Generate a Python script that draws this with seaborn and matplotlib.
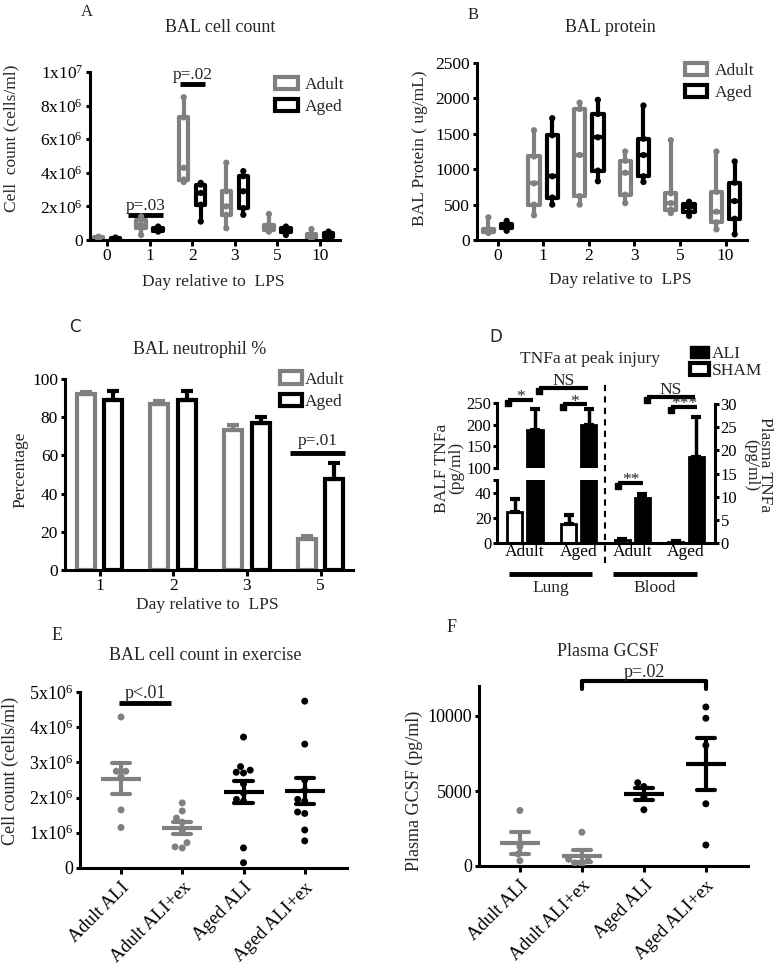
import numpy as np
import pandas as pd
import seaborn as sns
import matplotlib.pyplot as plt
from matplotlib.patches import Patch

### Data
## A - BAL cell count (x1e6 cells/ml): min, q1, median, q3, max for each day
days = ['0', '1', '2', '3', '5', '10']
groups = ['Adult', 'Aged']
cells_adult = [[0.0, 0.05, 0.1, 0.15, 0.2],
               [0.3, 0.7, 0.9, 1.2, 1.4],
               [3.45, 3.6, 4.3, 7.3, 8.5],
               [0.7, 1.5, 2.0, 2.9, 4.6],
               [0.5, 0.6, 0.7, 0.9, 1.55],
               [0.05, 0.1, 0.2, 0.35, 0.65]]
cells_aged = [[0.0, 0.03, 0.06, 0.1, 0.15],
              [0.5, 0.55, 0.6, 0.7, 0.8],
              [1.1, 2.1, 2.8, 3.3, 3.4],
              [1.5, 1.9, 2.9, 3.8, 4.1],
              [0.3, 0.45, 0.6, 0.7, 0.8],
              [0.15, 0.2, 0.3, 0.4, 0.5]]

## B - BAL protein (ug/mL): min, q1, median, q3, max
prot_adult = [[100, 110, 130, 150, 320],
              [350, 500, 800, 1180, 1550],
              [500, 620, 1200, 1850, 1940],
              [520, 640, 950, 1120, 1250],
              [380, 430, 520, 660, 1410],
              [150, 250, 400, 680, 1250]]
prot_aged = [[130, 170, 200, 230, 270],
             [500, 600, 900, 1480, 1720],
             [830, 980, 1450, 1780, 1980],
             [820, 900, 1200, 1430, 1900],
             [340, 390, 460, 510, 540],
             [80, 300, 550, 810, 1110]]

## C - BAL neutrophil % (mean, upper SEM)
neut_days = ['1', '2', '3', '5']
neut_adult = [92, 87, 73.5, 16]
neut_adult_err = [1.0, 1.5, 2.5, 2.0]
neut_aged = [89, 89, 77, 47.5]
neut_aged_err = [4.5, 4.5, 3.0, 8.5]

## D - TNFa at peak injury
tnf_cats = ['Lung Adult', 'Lung Aged', 'Blood Adult', 'Blood Aged']
tnf_ticks = ['Adult', 'Aged', 'Adult', 'Aged']
tnf_hue = ['SHAM', 'ALI']
lung_sham = [25, 15]
lung_sham_err = [10, 7]
lung_ali = [188, 199]
lung_ali_err = [49, 38]
blood_sham = [0.6, 0.3]
blood_sham_err = [0.3, 0.1]
blood_ali = [9.8, 18.6]
blood_ali_err = [0.8, 8.5]

## E - BAL cell count in exercise (x1e6 cells/ml)
ex_cats = ['Adult ALI', 'Adult ALI+ex', 'Aged ALI', 'Aged ALI+ex']
bal_adult_ali = [4.29, 2.75, 2.75, 2.6, 1.65, 1.15]
bal_adult_ex = [1.85, 1.62, 1.42, 1.3, 1.05, 0.72, 0.57, 0.6]
bal_aged_ali = [3.72, 2.88, 2.78, 2.72, 2.7, 2.39, 2.13, 1.95, 1.9, 0.57, 0.15]
bal_aged_ex = [4.74, 3.52, 2.5, 2.2, 1.9, 1.95, 1.59, 1.55, 1.08, 0.77]

## F - Plasma GCSF (pg/ml)
gcsf_adult_ali = [3700, 1300, 800, 350]
gcsf_adult_ex = [2250, 450, 350, 100, 200]
gcsf_aged_ali = [5550, 5300, 4600, 3750]
gcsf_aged_ex = [10600, 9850, 8050, 4150, 1400]

GRAY = '#808080'
pal = {'Adult': GRAY, 'Aged': 'black'}
pal_ex = {'Adult ALI': GRAY, 'Adult ALI+ex': GRAY, 'Aged ALI': 'black', 'Aged ALI+ex': 'black'}

W, H = 776, 966

sns.set_style('ticks')
plt.rcParams['font.family'] = ['Liberation Serif', 'DejaVu Serif']
plt.rcParams['mathtext.fontset'] = 'custom'
plt.rcParams['mathtext.rm'] = 'Liberation Serif'
plt.rcParams['mathtext.it'] = 'Liberation Serif:italic'
plt.rcParams['axes.linewidth'] = 2.2
plt.rcParams['xtick.major.width'] = 2.2
plt.rcParams['ytick.major.width'] = 2.2
plt.rcParams['xtick.major.size'] = 4
plt.rcParams['ytick.major.size'] = 3
plt.rcParams['xtick.color'] = 'black'
plt.rcParams['ytick.color'] = 'black'
plt.rcParams['axes.edgecolor'] = 'black'


def rect(x0, y0, x1, y1):
    """Pixel box (top-left origin) -> figure fraction rectangle."""
    return [x0 / W, 1 - y1 / H, (x1 - x0) / W, (y1 - y0) / H]


def ftext(x, y, s, **kw):
    kw.setdefault('ha', 'center')
    kw.setdefault('va', 'center')
    fig.text(x / W, 1 - y / H, s, **kw)


def sci_label(k, e):
    return r'$\mathregular{%dx10^{%d}}$' % (k, e)


def long_frame(adult, aged, name):
    rows = []
    for day, a, b in zip(days, adult, aged):
        rows += [(day, 'Adult', v) for v in a]
        rows += [(day, 'Aged', v) for v in b]
    return pd.DataFrame(rows, columns=['day', 'group', name])


def box_panel(ax, df, col, gap):
    sns.boxplot(data=df, x='day', y=col, hue='group', order=days, hue_order=groups,
                palette=pal, fill=False, linewidth=3, whis=(0, 100), showcaps=False,
                width=0.8, gap=gap, legend=False, ax=ax)
    sns.stripplot(data=df, x='day', y=col, hue='group', order=days, hue_order=groups,
                  palette=pal, dodge=True, jitter=False, size=4.5, legend=False, ax=ax)
    ax.set_xlabel('')
    ax.set_ylabel('')
    sns.despine(ax=ax)


def sig_bar(ax, x0, x1, y, label, fs, up=1):
    ax.plot([x0, x1], [y, y], color='black', lw=3.5, solid_capstyle='butt', clip_on=False)
    ax.annotate(label, xy=((x0 + x1) / 2, y), xytext=(0, up), textcoords='offset points',
                ha='center', va='bottom', fontsize=fs, annotation_clip=False)


def age_legend(ax, anchor, fs=12.5, pad=0.4):
    handles = [Patch(facecolor='white', edgecolor=pal[g], linewidth=3, label=g) for g in groups]
    ax.legend(handles=handles, loc='upper left', bbox_to_anchor=anchor, frameon=False,
              fontsize=fs, handlelength=1.3, handleheight=0.7, handletextpad=pad,
              labelspacing=0.35, borderaxespad=0, borderpad=0)


fig = plt.figure(figsize=(W / 100, H / 100), dpi=100)

### A - BAL cell count
axA = fig.add_axes(rect(90, 72, 340, 240))
dfA = long_frame(cells_adult, cells_aged, 'count')
dfA['count'] = dfA['count'] * 1e6
box_panel(axA, dfA, 'count', gap=0.45)
axA.set_xlim(-0.4, 5.47)
axA.set_ylim(0, 1e7)
axA.set_yticks([0, 2e6, 4e6, 6e6, 8e6, 1e7])
axA.set_yticklabels(['0'] + [sci_label(k, 6) for k in (2, 4, 6, 8)] + [sci_label(1, 7)])
axA.tick_params(labelsize=12.5, pad=2)
sig_bar(axA, 0.49, 1.31, 1.49e6, 'p=.03', 12.5)
sig_bar(axA, 1.71, 2.3, 9.29e6, 'p=.02', 12.5)
age_legend(axA, (0.74, 0.97))
ftext(87, 12, 'A', fontsize=12)
ftext(220, 27, 'BAL cell count', fontsize=13)
ftext(213, 282, 'Day relative to  LPS', fontsize=12.5)
ftext(11, 138, 'Cell  count (cells/ml)', fontsize=12.5, rotation=90)

### B - BAL protein
axB = fig.add_axes(rect(477, 63, 747, 240))
dfB = long_frame(prot_adult, prot_aged, 'protein')
box_panel(axB, dfB, 'protein', gap=0.38)
axB.set_xlim(-0.45, 5.47)
axB.set_ylim(0, 2500)
axB.set_yticks([0, 500, 1000, 1500, 2000, 2500])
axB.tick_params(labelsize=12.5, pad=2)
age_legend(axB, (0.77, 1.0))
ftext(473, 15, 'B', fontsize=12)
ftext(610, 28, 'BAL protein', fontsize=13)
ftext(620, 280, 'Day relative to  LPS', fontsize=12.5)
ftext(420, 148, 'BAL Protein ( ug/mL)', fontsize=12.5, rotation=90)

### C - BAL neutrophil %
axC = fig.add_axes(rect(65, 379, 353, 570))
dfC = pd.DataFrame({'day': neut_days * 2,
                    'group': ['Adult'] * 4 + ['Aged'] * 4,
                    'pct': neut_adult + neut_aged})
sns.barplot(data=dfC, x='day', y='pct', hue='group', order=neut_days, hue_order=groups,
            palette=pal, fill=False, linewidth=3, width=0.75, gap=0.35, errorbar=None,
            legend=False, ax=axC)
for cont, err, g in zip(axC.containers, [neut_adult_err, neut_aged_err], groups):
    bars = sorted(cont.patches, key=lambda b: b.get_x())
    xs = [b.get_x() + b.get_width() / 2 for b in bars]
    hs = [b.get_height() for b in bars]
    axC.errorbar(xs, hs, yerr=[[0] * len(err), err], fmt='none', ecolor=pal[g],
                 elinewidth=3, capsize=4, capthick=3)
axC.set_xlim(-0.47, 3.44)
axC.set_ylim(0, 100)
axC.set_yticks([0, 20, 40, 60, 80, 100])
axC.tick_params(labelsize=12.5, pad=2)
axC.set_xlabel('')
axC.set_ylabel('')
sns.despine(ax=axC)
sig_bar(axC, 2.58, 3.33, 61.3, 'p=.01', 12.5, up=3)
age_legend(axC, (0.745, 1.04), pad=0.15)
ftext(75, 327, 'C', fontsize=12, family='DejaVu Sans')
ftext(200, 350, 'BAL neutrophil %', fontsize=13)
ftext(207, 605, 'Day relative to  LPS', fontsize=12.5)
ftext(20, 470, 'Percentage', fontsize=12.5, rotation=90)

### D - TNFa at peak injury (broken left axis for lung, right axis for blood)
dfLung = pd.DataFrame({'cat': tnf_cats[:2] * 2, 'cond': ['SHAM'] * 2 + ['ALI'] * 2,
                       'tnf': lung_sham + lung_ali})
dfBlood = pd.DataFrame({'cat': tnf_cats[2:] * 2, 'cond': ['SHAM'] * 2 + ['ALI'] * 2,
                        'tnf': blood_sham + blood_ali})
pal_d = {'SHAM': 'white', 'ALI': 'black'}
errs_lung = {'SHAM': lung_sham_err, 'ALI': lung_ali_err}
errs_blood = {'SHAM': blood_sham_err, 'ALI': blood_ali_err}

axHi = fig.add_axes(rect(497, 403, 715, 468))
axLo = fig.add_axes(rect(497, 480, 715, 543))
axR = fig.add_axes(rect(497, 404, 715, 543))
axR.patch.set_visible(False)


def tnf_bars(ax, df, errs):
    sns.barplot(data=df, x='cat', y='tnf', hue='cond', order=tnf_cats, hue_order=tnf_hue,
                palette=pal_d, edgecolor='black', linewidth=2, width=0.75, gap=0.25,
                errorbar=None, legend=False, ax=ax)
    for cont, c in zip(ax.containers, tnf_hue):
        bars = sorted(cont.patches, key=lambda b: b.get_x())
        xs = [b.get_x() + b.get_width() / 2 for b in bars]
        hs = [b.get_height() for b in bars]
        ax.errorbar(xs, hs, yerr=[[0] * len(hs), errs[c]], fmt='none', ecolor='black',
                    elinewidth=2.5, capsize=3.5, capthick=3)
    ax.set_xlim(-0.52, 3.54)
    ax.set_xlabel('')
    ax.set_ylabel('')


tnf_bars(axHi, dfLung, errs_lung)
tnf_bars(axLo, dfLung, errs_lung)
tnf_bars(axR, dfBlood, errs_blood)

axHi.set_ylim(100, 250)
axHi.set_yticks([100, 150, 200, 250])
axHi.xaxis.set_visible(False)
for s in ['top', 'right', 'bottom']:
    axHi.spines[s].set_visible(False)
axLo.set_ylim(0, 50)
axLo.set_yticks([0, 20, 40, 50])
axLo.set_yticklabels(['0', '20', '40', ''])
axLo.set_xticks(range(4))
axLo.set_xticklabels(tnf_ticks)
axLo.tick_params(axis='x', length=0, pad=3)
for s in ['top', 'right']:
    axLo.spines[s].set_visible(False)
axR.set_ylim(0, 30)
axR.set_yticks([0, 5, 10, 15, 20, 25, 30])
axR.yaxis.tick_right()
axR.xaxis.set_visible(False)
for s in ['top', 'left', 'bottom']:
    axR.spines[s].set_visible(False)
for ax in (axHi, axLo, axR):
    ax.tick_params(labelsize=12, pad=1)
axLo.tick_params(axis='x', labelsize=12.5)
axR.axvline(1.5, ymin=-0.144, ymax=1.173, color='black', lw=1.5, ls=(0, (3, 2.5)),
            clip_on=False)


def bracket_d(x0, x1, y, label, drop=-3):
    axR.plot([x0, x1], [y, y], color='black', lw=3, solid_capstyle='butt', clip_on=False)
    axR.plot([x0], [y - 0.7], marker='s', ms=5, color='black', clip_on=False)
    axR.annotate(label, xy=((x0 + x1) / 2, y), xytext=(0, drop), textcoords='offset points',
                 ha='center', va='bottom', fontsize=12.5, annotation_clip=False)


bracket_d(-0.32, 0.15, 30.9, '*', drop=-4)
bracket_d(0.71, 1.15, 30.0, '*', drop=-4)
bracket_d(0.26, 1.17, 33.5, 'NS', drop=-1)
bracket_d(2.27, 3.17, 31.5, 'NS', drop=-1)
bracket_d(2.72, 3.2, 29.4, '***', drop=-4)
bracket_d(1.73, 2.2, 13.0, '**', drop=-4)

for x0, x1, name in [(-0.3, 1.25, 'Lung'), (1.64, 3.2, 'Blood')]:
    axLo.plot([x0, x1], [-0.49, -0.49], color='black', lw=3.5, solid_capstyle='butt',
              transform=axLo.get_xaxis_transform(), clip_on=False)
    axLo.text((x0 + x1) / 2, -0.72, name, ha='center', va='center', fontsize=12.5,
              transform=axLo.get_xaxis_transform())

fig.legend(handles=[Patch(facecolor='black', edgecolor='black', label='ALI'),
                    Patch(facecolor='white', edgecolor='black', linewidth=3, label='SHAM')],
           loc='upper left', bbox_to_anchor=(690 / W, 1 - 346 / H), frameon=False,
           fontsize=12.5, handlelength=1.1, handleheight=0.7, handletextpad=0.15,
           labelspacing=0.05, borderaxespad=0, borderpad=0)
ftext(496, 337, 'D', fontsize=12, family='DejaVu Sans')
ftext(590, 359, 'TNFa\u2009at peak injury', fontsize=12.5)
ftext(449, 468, 'BALF TNFa\n(pg/ml)', fontsize=12.5, rotation=90, linespacing=0.8)
ftext(758, 465, 'Plasma TNFa\n(pg/ml)', fontsize=12.5, rotation=270, linespacing=0.8)

### E - BAL cell count in exercise
axE = fig.add_axes(rect(80, 692, 347, 868))
dfE = pd.DataFrame({'cond': [ex_cats[0]] * len(bal_adult_ali) + [ex_cats[1]] * len(bal_adult_ex)
                    + [ex_cats[2]] * len(bal_aged_ali) + [ex_cats[3]] * len(bal_aged_ex),
                    'count': bal_adult_ali + bal_adult_ex + bal_aged_ali + bal_aged_ex})
dfE['count'] = dfE['count'] * 1e6

### F - Plasma GCSF
axF = fig.add_axes(rect(479, 686, 748, 866))
dfF = pd.DataFrame({'cond': [ex_cats[0]] * len(gcsf_adult_ali) + [ex_cats[1]] * len(gcsf_adult_ex)
                    + [ex_cats[2]] * len(gcsf_aged_ali) + [ex_cats[3]] * len(gcsf_aged_ex),
                    'gcsf': gcsf_adult_ali + gcsf_adult_ex + gcsf_aged_ali + gcsf_aged_ex})

for ax, df, col in [(axE, dfE, 'count'), (axF, dfF, 'gcsf')]:
    sns.swarmplot(data=df, x='cond', y=col, hue='cond', order=ex_cats, hue_order=ex_cats,
                  palette=pal_ex, size=5, legend=False, ax=ax)
    sns.pointplot(data=df, x='cond', y=col, hue='cond', order=ex_cats, hue_order=ex_cats,
                  palette=pal_ex, errorbar='se', marker='_', markersize=29,
                  markeredgewidth=3, linestyle='none', capsize=0.3,
                  err_kws={'linewidth': 3}, legend=False, ax=ax)
    ax.set_xlabel('')
    ax.set_ylabel('')
    ax.set_xticks(range(4))
    ax.set_xticklabels(ex_cats, rotation=45, ha='right', rotation_mode='anchor')
    ax.tick_params(axis='x', labelsize=13.5, pad=4)
    ax.tick_params(axis='y', labelsize=13, pad=2)
    sns.despine(ax=ax)

axE.set_xlim(-0.67, 3.69)
axE.set_ylim(0, 5e6)
axE.set_yticks([0, 1e6, 2e6, 3e6, 4e6, 5e6])
axE.set_yticklabels(['0'] + [sci_label(k, 6) for k in range(1, 6)])
sig_bar(axE, -0.03, 0.82, 4.69e6, 'p<.01', 13)
ftext(57, 635, 'E', fontsize=13)
ftext(205, 656, 'BAL cell count in exercise', fontsize=13)
ftext(10, 771, 'Cell count (cells/ml)', fontsize=13, rotation=90)

axF.set_xlim(-0.66, 3.68)
axF.set_ylim(0, 12000)
axF.set_yticks([0, 5000, 10000])
axF.plot([1, 1, 3, 3], [11800, 12330, 12330, 11800], color='black', lw=3, clip_on=False)
axF.text(2, 12320, 'p=.02', ha='center', va='bottom', fontsize=13)
ftext(452, 628, 'F', fontsize=13)
ftext(608, 652, 'Plasma GCSF', fontsize=13)
ftext(414, 791, 'Plasma GCSF (pg/ml)', fontsize=13, rotation=90)

fig.savefig('out.png', dpi=100)
